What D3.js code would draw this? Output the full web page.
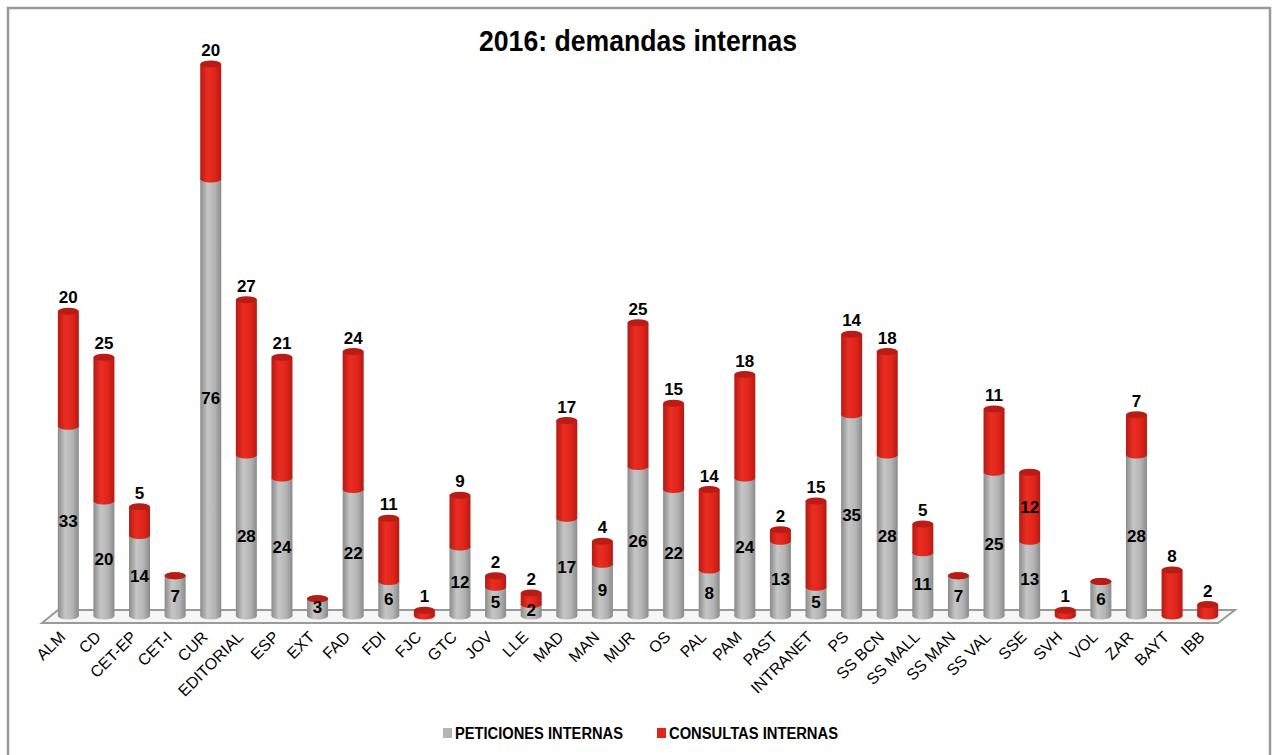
<!DOCTYPE html>
<html lang="es">
<head>
<meta charset="UTF-8">
<title>2016: demandas internas</title>
<script src="https://d3js.org/d3.v7.min.js"></script>
<style>
  body { margin: 0; background: #fff; }
  svg { font-family: "Liberation Sans Narrow", "Liberation Sans", Arial, sans-serif; }
</style>
</head>
<body>
<svg width="1272" height="755"></svg>
<script>
// categories and the two stacked series
const categorias = ["ALM","CD","CET-EP","CET-I","CUR","EDITORIAL","ESP","EXT","FAD","FDI","FJC","GTC","JOV","LLE","MAD","MAN","MUR","OS","PAL","PAM","PAST","INTRANET","PS","SS BCN","SS MALL","SS MAN","SS VAL","SSE","SVH","VOL","ZAR","BAYT","IBB"];
const peticiones = [33,20,14,7,76,28,24,3,22,6,0,12,5,2,17,9,26,22,8,24,13,5,35,28,11,7,25,13,0,6,28,0,0];
const consultas  = [20,25,5,0,20,27,21,0,24,11,1,9,2,2,17,4,25,15,14,18,2,15,14,18,5,0,11,12,1,0,7,8,2];
const series = ["PETICIONES INTERNAS", "CONSULTAS INTERNAS"];
const yMax = 96;

const svg = d3.select("svg");

// outer frame
svg.append("path")
  .attr("d", "M8,755 L8,8 L1270,8 L1270,755")
  .attr("fill", "none")
  .attr("stroke", "#9a9a9a")
  .attr("stroke-width", 2.5);

// title
svg.append("text")
  .attr("x", 638).attr("y", 51)
  .attr("text-anchor", "middle")
  .attr("font-size", "29px")
  .attr("font-weight", "bold")
  .attr("textLength", 318)
  .attr("lengthAdjust", "spacingAndGlyphs")
  .text("2016: demandas internas");

const x = d3.scaleBand().domain(categorias).range([50.7, 1225.3]).paddingInner(0.41).paddingOuter(0.2);
const y = d3.scaleLinear().domain([0, yMax]).range([616, 64]);

// gradients for the cylinders
const defs = svg.append("defs");
function grad(id, edge, mid, light) {
  const g = defs.append("linearGradient").attr("id", id).attr("x1", "0%").attr("x2", "100%");
  g.append("stop").attr("offset", "0%").attr("stop-color", edge);
  g.append("stop").attr("offset", "35%").attr("stop-color", light);
  g.append("stop").attr("offset", "70%").attr("stop-color", mid);
  g.append("stop").attr("offset", "100%").attr("stop-color", edge);
}
grad("gGris", "#8a8a8a", "#b4b4b4", "#c6c6c6");
grad("gRojo", "#b51a12", "#df251b", "#ea2d22");

// floor
svg.append("path")
  .attr("d", "M58,610 L1235,610 L1218,623 L42,623 Z")
  .attr("fill", "#f6f6f6")
  .attr("stroke", "#9a9a9a")
  .attr("stroke-width", 2);

const bw = x.bandwidth();
const rx = bw / 2, ry = 3.5;

const rows = categorias.map((c, i) => ({ c, p: peticiones[i], q: consultas[i] }));
const bars = svg.append("g").selectAll("g").data(rows).join("g");

function cyl(g, cx, y0, y1, fill, topFill) {
  g.append("ellipse").attr("cx", cx).attr("cy", y0).attr("rx", rx).attr("ry", ry).attr("fill", fill);
  g.append("rect").attr("x", cx - rx).attr("y", y1).attr("width", bw).attr("height", y0 - y1).attr("fill", fill);
  g.append("ellipse").attr("cx", cx).attr("cy", y1).attr("rx", rx).attr("ry", ry).attr("fill", topFill);
}

bars.each(function(d) {
  const g = d3.select(this);
  const cx = x(d.c) + bw / 2;
  if (d.p > 0) cyl(g, cx, y(0), y(d.p), "url(#gGris)", "#a2a2a2");
  // the red series always closes the stack, even when it is zero
  cyl(g, cx, y(d.p), y(d.p + d.q), "url(#gRojo)", "#b81c14");
});

// value labels
const insideRojo = ["SSE"];
const lbl = svg.append("g").attr("font-weight", "bold").attr("font-size", "17px").attr("text-anchor", "middle");
rows.forEach(d => {
  const cx = x(d.c) + bw / 2;
  if (d.p > 0) {
    lbl.append("text").attr("x", cx).attr("y", (y(0) + y(d.p)) / 2 + 6).text(d.p);
  }
  if (d.q > 0) {
    const inside = insideRojo.includes(d.c);
    lbl.append("text").attr("x", cx)
      .attr("y", inside ? (y(d.p) + y(d.p + d.q)) / 2 + 6 : y(d.p + d.q) - 8)
      .text(d.q);
  }
});

// category labels
svg.append("g").selectAll("text").data(categorias).join("text")
  .attr("transform", d => `translate(${x(d) + bw / 2 - 2},638) rotate(-45)`)
  .attr("text-anchor", "end")
  .attr("font-size", "16px")
  .text(d => d);

// legend
const legend = [
  { name: series[0], color: "#b4b4b4", x: 443, w: 168 },
  { name: series[1], color: "#e0261c", x: 657, w: 169 }
];
const lg = svg.append("g").selectAll("g").data(legend).join("g")
  .attr("transform", d => `translate(${d.x},728)`);
lg.append("rect").attr("width", 9).attr("height", 10).attr("fill", d => d.color);
lg.append("text").attr("x", 12).attr("y", 11)
  .attr("font-size", "16px").attr("font-weight", "bold")
  .attr("textLength", d => d.w)
  .attr("lengthAdjust", "spacingAndGlyphs")
  .text(d => d.name);
</script>
</body>
</html>
